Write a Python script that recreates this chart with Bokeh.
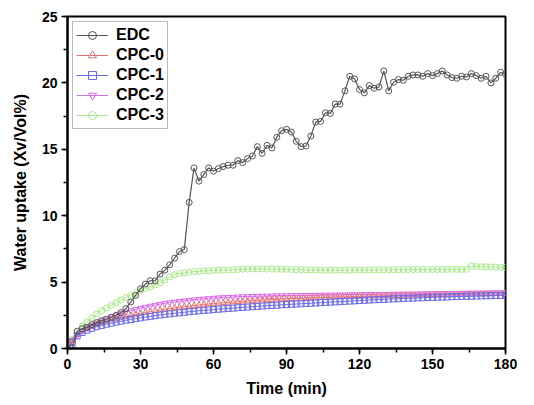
from bokeh.plotting import figure
from bokeh.models import SingleIntervalTicker, Range1d, Legend, LegendItem
from bokeh.embed import file_html
from bokeh.resources import INLINE

# ---------------- data ----------------
edc_time = list(range(2, 181, 2))
edc = [0.05, 1.3, 1.5, 1.6, 1.8, 1.95, 2.1, 2.2, 2.35, 2.5,
       2.7, 3.0, 3.5, 4.0, 4.5, 4.85, 5.1, 5.1, 5.6, 5.9,
       6.3, 6.8, 7.3, 7.45, 11.0, 13.6, 12.6, 13.1, 13.6, 13.35,
       13.55, 13.7, 13.8, 13.8, 14.15, 14.0, 14.3, 14.5, 15.2, 14.7,
       15.3, 15.1, 15.9, 16.4, 16.5, 16.3, 15.6, 15.2, 15.25, 16.0,
       17.05, 17.1, 17.75, 17.7, 18.4, 18.4, 19.4, 20.5, 20.3, 19.5,
       19.25, 19.8, 19.6, 19.7, 20.9, 19.4, 20.05, 20.25, 20.2, 20.5,
       20.6, 20.6, 20.5, 20.7, 20.55, 20.7, 20.9, 20.6, 20.4, 20.35,
       20.5, 20.45, 20.7, 20.55, 20.35, 20.5, 20.0, 20.35, 20.8, 20.65]

cpc_time = list(range(0, 181, 2))
cpc0 = [0, 0.6, 1.05, 1.3, 1.5, 1.65, 1.8, 1.92, 2.03, 2.13, 2.23,
        2.32, 2.4, 2.48, 2.56, 2.63, 2.7, 2.77, 2.83, 2.89, 2.95,
        3.0, 3.05, 3.1, 3.15, 3.19, 3.23, 3.27, 3.31, 3.35, 3.38,
        3.41, 3.44, 3.47, 3.5, 3.52, 3.55, 3.57, 3.6, 3.62, 3.64,
        3.66, 3.68, 3.7, 3.72, 3.74, 3.75, 3.77, 3.78, 3.8, 3.81,
        3.82, 3.84, 3.85, 3.86, 3.87, 3.88, 3.89, 3.9, 3.91, 3.92,
        3.93, 3.94, 3.95, 3.95, 3.96, 3.97, 3.98, 3.98, 3.99, 4.0,
        4.01, 4.01, 4.02, 4.03, 4.03, 4.04, 4.05, 4.05, 4.06, 4.07,
        4.07, 4.08, 4.09, 4.09, 4.1, 4.1, 4.11, 4.11, 4.12, 4.12]
cpc1 = [0, 0.5, 0.95, 1.2, 1.38, 1.52, 1.64, 1.74, 1.83, 1.91, 1.99,
        2.06, 2.13, 2.19, 2.25, 2.31, 2.37, 2.42, 2.47, 2.52, 2.57,
        2.61, 2.65, 2.69, 2.73, 2.77, 2.8, 2.84, 2.87, 2.9, 2.93,
        2.96, 2.99, 3.02, 3.04, 3.07, 3.1, 3.12, 3.15, 3.17, 3.2,
        3.22, 3.24, 3.26, 3.29, 3.31, 3.33, 3.35, 3.37, 3.39, 3.41,
        3.43, 3.45, 3.47, 3.49, 3.51, 3.53, 3.55, 3.57, 3.59, 3.61,
        3.63, 3.65, 3.67, 3.69, 3.7, 3.72, 3.74, 3.75, 3.77, 3.78,
        3.8, 3.81, 3.82, 3.84, 3.85, 3.86, 3.87, 3.88, 3.9, 3.91,
        3.92, 3.93, 3.94, 3.95, 3.96, 3.97, 3.98, 3.99, 4.0, 4.02]
cpc2 = [0, 0.55, 1.0, 1.3, 1.55, 1.75, 1.93, 2.1, 2.25, 2.39, 2.52,
        2.64, 2.75, 2.85, 2.95, 3.04, 3.12, 3.2, 3.27, 3.34, 3.4,
        3.46, 3.51, 3.56, 3.6, 3.64, 3.68, 3.71, 3.74, 3.77, 3.8,
        3.82, 3.84, 3.86, 3.88, 3.9, 3.91, 3.92, 3.93, 3.94, 3.95,
        3.96, 3.97, 3.98, 3.98, 3.99, 4.0, 4.0, 4.01, 4.01, 4.02,
        4.02, 4.03, 4.03, 4.04, 4.04, 4.05, 4.05, 4.06, 4.06, 4.07,
        4.07, 4.08, 4.08, 4.09, 4.09, 4.1, 4.1, 4.11, 4.11, 4.12,
        4.12, 4.13, 4.13, 4.14, 4.14, 4.15, 4.15, 4.16, 4.16, 4.17,
        4.17, 4.18, 4.18, 4.19, 4.19, 4.2, 4.2, 4.21, 4.21, 4.22]
cpc3 = [0, 0.7, 1.3, 1.7, 2.0, 2.3, 2.6, 2.85, 3.05, 3.25, 3.45,
        3.65, 3.85, 4.0, 4.15, 4.35, 4.5, 4.65, 4.8, 4.95, 5.15,
        5.4, 5.55, 5.65, 5.7, 5.75, 5.8, 5.8, 5.85, 5.85, 5.88,
        5.9, 5.9, 5.92, 5.93, 5.95, 5.97, 5.98, 6.0, 6.0, 5.99,
        5.98, 5.98, 5.97, 5.97, 5.96, 5.95, 5.94, 5.93, 5.92, 5.92,
        5.91, 5.9, 5.9, 5.9, 5.9, 5.9, 5.9, 5.9, 5.91, 5.91,
        5.91, 5.92, 5.92, 5.92, 5.92, 5.93, 5.93, 5.93, 5.93, 5.94,
        5.94, 5.94, 5.95, 5.95, 5.95, 5.95, 5.95, 5.96, 5.96, 5.96,
        5.96, 5.96, 6.2, 6.18, 6.16, 6.15, 6.14, 6.13, 6.12, 6.12]

series_names = ["EDC", "CPC-0", "CPC-1", "CPC-2", "CPC-3"]
x_ticks = [0, 30, 60, 90, 120, 150, 180]
y_ticks = [0, 5, 10, 15, 20, 25]

# ---------------- figure ----------------
FONT = "Liberation Sans"
p = figure(width=526, height=397, output_backend="svg", toolbar_location=None,
           x_range=Range1d(0, 180), y_range=Range1d(0, 25),
           min_border_left=67, min_border_right=21, min_border_top=16, min_border_bottom=49)
p.frame_width = 438
p.frame_height = 332
p.grid.visible = False
p.background_fill_color = "white"
p.border_fill_color = "white"
p.outline_line_color = "black"
p.outline_line_width = 2

p.xaxis.ticker = SingleIntervalTicker(interval=30, num_minor_ticks=2)
p.yaxis.ticker = SingleIntervalTicker(interval=5, num_minor_ticks=2)
for ax in (p.xaxis[0], p.yaxis[0]):
    ax.axis_line_width = 2
    ax.axis_line_color = "black"
    ax.major_tick_in = 0
    ax.major_tick_out = 6
    ax.minor_tick_in = 0
    ax.minor_tick_out = 4
    ax.major_tick_line_width = 1.5
    ax.minor_tick_line_width = 1.5
    ax.major_label_text_font = FONT
    ax.major_label_text_font_style = "bold"
    ax.major_label_text_font_size = "14px"
    ax.major_label_text_color = "black"
    ax.axis_label_text_font = FONT
    ax.axis_label_text_font_style = "bold"
    ax.axis_label_text_font_size = "16px"
    ax.axis_label_text_color = "black"
p.xaxis.axis_label = "Time (min)"
p.yaxis.axis_label = "Water uptake (Xv/Vol%)"
p.xaxis.major_label_standoff = 4
p.xaxis.axis_label_standoff = 8
p.yaxis.major_label_standoff = 4
p.yaxis.axis_label_standoff = 10

colors = ["#555555", "#e87272", "#6b6bea", "#d96ae8", "#a6ea86"]
markers = ["circle", "triangle", "square", "inverted_triangle", "circle"]
xs = [edc_time, cpc_time, cpc_time, cpc_time, cpc_time]
ys = [edc, cpc0, cpc1, cpc2, cpc3]

order = [4, 3, 1, 2, 0]
rend = {}
for i in order:
    lw = 1.2 if i == 0 else 1.0
    l = p.line(xs[i], ys[i], line_color=colors[i], line_width=lw)
    s = p.scatter(xs[i], ys[i], marker=markers[i], size=6,
                  line_color=colors[i], fill_color=None, line_width=1.0)
    rend[i] = [l, s]
items = [LegendItem(label=series_names[i], renderers=rend[i]) for i in range(5)]

legend = Legend(items=items, location="top_left")
legend.margin = 5
legend.padding = 3
legend.spacing = 0
legend.label_height = 20
legend.glyph_height = 20
legend.glyph_width = 32
legend.label_standoff = 8
legend.label_text_font = FONT
legend.label_text_font_style = "bold"
legend.label_text_font_size = "16px"
legend.label_text_color = "black"
legend.border_line_color = "#777777"
legend.border_line_width = 1
legend.background_fill_alpha = 1
p.add_layout(legend, "center")

open("out.html", "w").write(file_html(p, INLINE))
